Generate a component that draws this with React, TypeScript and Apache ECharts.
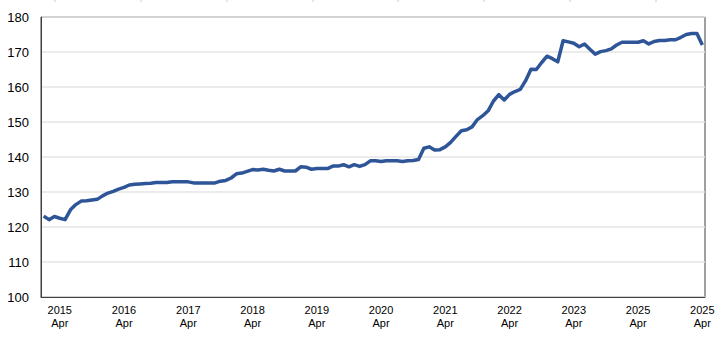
import React, { useEffect, useRef } from "react";
import * as echarts from "echarts";

// Monthly categories Jan 2015 .. Apr 2025
const startYear = 2015;
const monthNames = ["Jan", "Feb", "Mar", "Apr", "May", "Jun", "Jul", "Aug", "Sep", "Oct", "Nov", "Dec"];
const categories: string[] = [];
for (let i = 0; i < 124; i++) {
  categories.push(`${startYear + Math.floor(i / 12)} ${monthNames[i % 12]}`);
}

// Tick labels as printed on the reference (one per April)
const tickYears = ["2015", "2016", "2017", "2018", "2019", "2020", "2021", "2022", "2023", "2025", "2025"];
const tickMonth = "Apr";

const values = [
  123.1, 122.1, 123.0, 122.5, 122.1, 124.9, 126.4, 127.4, 127.5, 127.7, 127.9, 128.9,
  129.7, 130.2, 130.8, 131.3, 132.0, 132.2, 132.3, 132.4, 132.5, 132.7, 132.7, 132.7,
  132.9, 132.9, 132.9, 132.9, 132.6, 132.6, 132.6, 132.6, 132.6, 133.1, 133.3, 134.0,
  135.2, 135.4, 135.9, 136.4, 136.3, 136.5, 136.2, 136.0, 136.5, 136.0, 136.0, 136.0,
  137.2, 137.1, 136.5, 136.7, 136.7, 136.7, 137.4, 137.4, 137.8, 137.2, 137.8, 137.3,
  137.8, 138.9, 138.9, 138.7, 138.9, 138.9, 138.9, 138.7, 138.9, 139.0, 139.3, 142.5,
  142.9, 142.0, 142.1, 142.9, 144.2, 145.9, 147.5, 147.8, 148.6, 150.7, 151.8, 153.2,
  156.0, 157.8, 156.3, 157.9, 158.7, 159.3, 161.8, 165.1, 165.0, 167.0, 168.8, 168.1,
  167.2, 173.2, 172.9, 172.5, 171.5, 172.3, 170.8, 169.4, 170.1, 170.4, 170.9, 172.0,
  172.8, 172.8, 172.8, 172.8, 173.2, 172.3, 173.0, 173.3, 173.3, 173.5, 173.5, 174.2,
  175.0, 175.3, 175.3, 172.0,
];

const topMarksX = [55, 141, 227, 313, 398, 484, 570, 656];

export default function App() {
  const ref = useRef<HTMLDivElement>(null);
  useEffect(() => {
    if (!ref.current) return;
    const chart = echarts.init(ref.current, null, { renderer: "svg" });
    const font = "'Liberation Sans', Arial, sans-serif";
    chart.setOption({
      animation: false,
      backgroundColor: "#ffffff",
      grid: {
        left: 41,
        top: 17,
        width: 664,
        height: 280,
        show: true,
        borderColor: "#404040",
        borderWidth: 1,
        backgroundColor: "transparent",
      },
      xAxis: {
        type: "category",
        data: categories,
        boundaryGap: true,
        axisLine: { show: true, lineStyle: { color: "#404040", width: 1 } },
        axisTick: { show: false },
        splitLine: { show: false },
        axisLabel: {
          interval: (index: number) => index % 12 === 3,
          formatter: (_v: string, index: number) => {
            const k = Math.floor(index / 12);
            return `${tickYears[k]}\n${tickMonth}`;
          },
          color: "#000000",
          fontSize: 11,
          fontFamily: font,
          lineHeight: 13,
          margin: 6,
        },
      },
      yAxis: {
        type: "value",
        min: 100,
        max: 180,
        interval: 10,
        axisLine: { show: true, lineStyle: { color: "#404040", width: 1 } },
        axisTick: { show: false },
        splitLine: { show: true, lineStyle: { color: "#e4e4e4", width: 1.5 } },
        axisLabel: {
          color: "#000000",
          fontSize: 13,
          fontFamily: font,
          margin: 12,
        },
      },
      series: [
        {
          type: "line",
          data: values,
          symbol: "none",
          lineStyle: { color: "#2E5597", width: 3.5, join: "round" },
          itemStyle: { color: "#2E5597" },
        },
      ],
      graphic: topMarksX.map((x) => ({
        type: "line",
        shape: { x1: x, y1: 0, x2: x, y2: 2 },
        style: { stroke: "#cccccc", lineWidth: 1 },
        silent: true,
      })),
    });
    return () => chart.dispose();
  }, []);
  return (
    <div
      ref={ref}
      style={{ position: "fixed", left: 0, top: 0, width: 723, height: 340 }}
    />
  );
}
